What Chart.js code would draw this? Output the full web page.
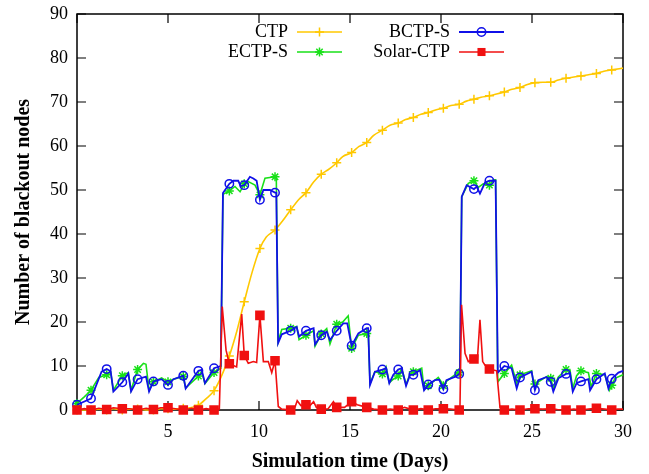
<!DOCTYPE html>
<html lang="en">
<head>
<meta charset="UTF-8">
<title>Blackout nodes</title>
<script src="https://cdn.jsdelivr.net/npm/chart.js@4"></script>
<style>
  html, body { margin: 0; padding: 0; background: #fff; }
</style>
</head>
<body>
<canvas id="blackoutChart" width="649" height="474"></canvas>
<script>
// days at which each curve carries its point symbol
var markDays = [0, 0.77, 1.63, 2.49, 3.33, 4.2, 5.0, 5.84, 6.67, 7.53, 8.37, 9.19, 10.05, 10.88,
    11.74, 12.58, 13.42, 14.27, 15.09, 15.92, 16.78, 17.65, 18.48, 19.3, 20.13, 21.0, 21.81,
    22.66, 23.48, 24.34, 25.16, 26.03, 26.87, 27.69, 28.54, 29.38];

var xTicks = [0, 5, 10, 15, 20, 25, 30];
var yTicks = [0, 10, 20, 30, 40, 50, 60, 70, 80, 90];

// [day, blackout nodes]
var ctpPts = [[0,0],[0.77,0],[1.2,0.2],[1.63,0],[2.0,0.3],[2.49,0],[2.9,0.2],[3.33,0.2],[3.8,0],
    [4.2,0],[4.6,0.3],[5.0,0.3],[5.4,0.2],[5.84,0.4],[6.2,0.5],[6.67,1.1],[7.1,2.6],[7.53,4.4],
    [7.95,7.8],[8.37,12.3],[8.8,18.2],[9.19,24.6],[9.6,31.0],[10.05,36.7],[10.4,39.3],[10.88,40.9],
    [11.3,43.0],[11.74,45.5],[12.2,47.9],[12.58,49.4],[13.0,51.8],[13.42,53.6],[13.8,54.6],
    [14.27,56.2],[14.6,57.6],[15.09,58.5],[15.5,59.9],[15.92,60.8],[16.3,62.4],[16.78,63.6],
    [17.2,64.7],[17.65,65.2],[18.05,66.0],[18.48,66.5],[18.9,67.2],[19.3,67.6],[19.7,68.2],
    [20.13,68.6],[20.55,69.2],[21.0,69.5],[21.4,70.2],[21.81,70.6],[22.2,71.1],[22.66,71.4],
    [23.05,71.8],[23.48,72.3],[23.9,72.9],[24.34,73.3],[24.75,74.0],[25.16,74.4],[25.6,74.5],
    [26.03,74.5],[26.45,75.0],[26.87,75.4],[27.3,75.7],[27.69,75.9],[28.1,76.2],[28.54,76.5],
    [28.95,77.0],[29.38,77.3],[30,77.7]];

var ectpPts = [[0,1.5],[0.4,3.0],[0.77,4.5],[1.2,7.4],[1.63,8.0],[1.85,8.6],[2.0,4.5],[2.49,7.8],
    [2.82,8.5],[2.97,4.5],[3.33,9.2],[3.65,10.6],[3.79,10.4],[3.96,4.5],[4.2,6.4],[4.65,7.3],
    [5.0,6.4],[5.3,7.0],[5.84,7.6],[5.97,5.0],[6.67,7.7],[6.85,8.8],[7.03,6.0],[7.53,8.5],[7.9,9.5],
    [8.02,49.0],[8.37,49.8],[8.68,50.8],[8.96,49.6],[9.19,51.4],[9.41,51.9],[9.78,51.1],[10.05,48.9],
    [10.33,52.7],[10.88,53.0],[10.95,53.0],[11.05,15.5],[11.25,18.3],[11.74,18.6],[12.07,19.0],
    [12.2,16.0],[12.58,17.0],[13.0,18.0],[13.08,14.5],[13.42,17.3],[13.72,18.5],[13.9,15.0],
    [14.27,19.5],[14.6,20.0],[14.9,21.4],[15.09,14.0],[15.46,17.0],[15.92,17.4],[16.0,18.0],
    [16.1,6.0],[16.37,8.7],[16.78,8.2],[16.98,9.8],[17.16,6.2],[17.38,7.0],[17.65,7.7],[17.84,9.5],
    [18.08,5.8],[18.3,8.2],[18.48,8.7],[18.94,9.5],[19.07,4.7],[19.3,5.5],[19.85,7.4],[20.0,6.5],
    [20.13,5.5],[20.3,6.5],[20.86,8.3],[21.0,8.5],[21.04,8.6],[21.14,48.5],[21.5,51.5],[21.81,52.1],
    [22.05,50.6],[22.32,51.4],[22.66,51.1],[22.87,52.3],[23.0,52.3],[23.12,6.4],[23.48,8.3],
    [23.88,10.2],[24.16,6.1],[24.34,8.0],[24.98,8.9],[25.1,5.7],[25.16,5.9],[25.8,7.6],[26.03,7.2],
    [26.17,4.9],[26.45,7.5],[26.87,9.2],[27.09,9.0],[27.24,4.9],[27.45,7.8],[27.69,8.9],[28.1,8.5],
    [28.25,5.3],[28.54,8.3],[29.0,8.0],[29.25,4.5],[29.38,5.6],[29.56,7.2],[30,8.0]];

var bctpPts = [[0,1.2],[0.77,2.6],[1.35,8.7],[1.63,9.3],[1.85,8.8],[2.0,4.2],[2.49,6.3],[2.82,8.3],
    [2.97,4.2],[3.33,7.0],[3.79,7.6],[3.96,4.2],[4.2,6.5],[4.65,7.0],[5.0,5.7],[5.3,7.0],[5.84,7.8],
    [5.97,4.9],[6.67,8.9],[6.85,9.1],[7.03,6.1],[7.53,9.5],[7.9,10.0],[8.02,49.3],[8.37,51.4],
    [8.59,52.1],[8.86,52.1],[8.99,50.9],[9.19,51.1],[9.5,53.0],[9.69,52.6],[9.87,52.1],[10.05,47.8],
    [10.24,50.0],[10.6,50.0],[10.88,49.4],[10.95,49.4],[11.05,15.2],[11.25,17.2],[11.74,18.0],
    [12.07,18.9],[12.2,16.7],[12.58,18.0],[13.0,18.6],[13.08,14.9],[13.42,17.0],[13.72,17.8],
    [13.9,15.9],[14.27,18.0],[14.63,19.7],[14.85,19.7],[15.09,14.6],[15.46,17.4],[15.92,18.6],
    [16.0,18.6],[16.1,5.7],[16.37,8.7],[16.78,9.2],[16.98,9.5],[17.16,6.1],[17.38,8.0],[17.65,9.2],
    [17.84,9.5],[18.08,5.5],[18.3,8.0],[18.48,8.0],[18.85,9.1],[19.07,4.5],[19.3,5.8],[19.67,6.8],
    [19.9,6.9],[20.13,4.7],[20.3,6.8],[20.86,7.7],[21.0,8.2],[21.04,8.3],[21.14,48.5],[21.41,51.1],
    [21.81,50.2],[21.96,50.8],[22.14,49.2],[22.42,51.7],[22.66,52.1],[23.0,52.1],[23.12,8.5],
    [23.48,10.0],[23.88,9.5],[24.16,4.9],[24.34,7.4],[24.98,8.7],[25.16,4.5],[25.35,6.8],[25.8,7.5],
    [26.03,6.4],[26.17,4.2],[26.45,7.2],[26.87,8.2],[27.09,8.3],[27.24,4.2],[27.45,6.1],[27.69,6.5],
    [28.1,7.0],[28.19,4.5],[28.54,7.0],[29.0,8.3],[29.2,4.9],[29.38,7.1],[29.75,8.5],[30,8.9]];

var solarPts = [[0,0],[0.4,0.3],[0.77,0],[1.2,0.4],[1.63,0.1],[2.0,0.5],[2.49,0.3],[2.9,0.3],
    [3.33,0],[3.8,0.4],[4.2,0.1],[4.6,0.5],[5.0,0.5],[5.4,0.3],[5.84,0],[6.3,0.4],[6.67,0],[7.1,0.3],
    [7.53,0],[7.82,0.2],[7.98,23.5],[8.19,13.6],[8.37,10.5],[8.77,9.8],[9.05,21.8],[9.19,12.4],
    [9.41,10.6],[9.69,11.0],[9.87,10.8],[10.05,21.5],[10.24,11.0],[10.51,11.0],[10.7,8.5],
    [10.88,11.2],[11.06,0.8],[11.25,0.2],[11.74,0],[11.95,0.3],[12.1,2.1],[12.3,1.0],[12.58,1.2],
    [12.8,1.0],[13.0,1.9],[13.15,0.6],[13.42,0.2],[13.8,0.3],[14.09,1.9],[14.27,0.6],[14.7,0.6],
    [15.09,1.9],[15.4,1.2],[15.92,0.6],[16.3,0.2],[16.78,0],[17.2,0.2],[17.65,0],[18.0,0.6],
    [18.48,0],[18.9,0.3],[19.3,0],[19.7,0.3],[20.13,0.3],[20.5,0.2],[21.0,0],[21.04,0.1],
    [21.13,23.9],[21.32,12.9],[21.5,11.0],[21.81,11.6],[22.0,11.5],[22.14,20.5],[22.29,11.0],
    [22.42,10.2],[22.66,9.3],[23.06,8.9],[23.24,0.6],[23.48,0],[23.9,0.2],[24.34,0],[24.8,0.3],
    [25.16,0.3],[25.6,0.2],[26.03,0.3],[26.4,0.1],[26.87,0],[27.3,0.2],[27.69,0],[28.1,0.2],
    [28.54,0.4],[29.0,0.2],[29.38,0],[29.7,0.2],[30,0.2]];

var seriesNames = ['CTP', 'ECTP-S', 'BCTP-S', 'Solar-CTP'];
var seriesColors = ['#FFC800', '#18E018', '#1010E8', '#F01010'];

function toXY(pts) {
    return pts.map(function (p) { return { x: p[0], y: p[1] }; });
}

function isMark(x) {
    for (var i = 0; i < markDays.length; i++) {
        if (Math.abs(markDays[i] - x) < 1e-6) return true;
    }
    return false;
}

function makeSet(i, pts, style, size, fill, drawOrder, width) {
    return {
        label: seriesNames[i],
        data: toXY(pts),
        borderColor: seriesColors[i],
        backgroundColor: fill ? seriesColors[i] : 'rgba(0,0,0,0)',
        pointBorderColor: seriesColors[i],
        pointBackgroundColor: fill ? seriesColors[i] : 'rgba(0,0,0,0)',
        borderWidth: width,
        pointBorderWidth: 1.5,
        pointStyle: style,
        markSize: size,
        pointRadius: function (c) { return isMark(c.raw.x) ? size : 0; },
        pointHoverRadius: 0,
        tension: 0,
        fill: false,
        clip: false,
        order: drawOrder
    };
}

var datasets = [
    makeSet(0, ctpPts, 'cross', 4.5, false, 4, 1.6),
    makeSet(1, ectpPts, 'star', 4.5, false, 3, 1.6),
    makeSet(2, bctpPts, 'circle', 4.2, false, 2, 1.8),
    makeSet(3, solarPts, 'rect', 5.7, true, 1, 1.6)
];
datasets[0].cubicInterpolationMode = 'monotone';

var serif = '"Liberation Serif", "Times New Roman", serif';

// frame and inward tick marks, drawn under the curves
var frameTicks = {
    id: 'frameTicks',
    beforeDatasetsDraw: function (chart) {
        var ctx = chart.ctx, a = chart.chartArea;
        var xs = chart.scales.x, ys = chart.scales.y;
        var len = 9;
        ctx.save();
        ctx.strokeStyle = '#000';
        ctx.lineWidth = 1.2;
        ctx.beginPath();
        xs.ticks.forEach(function (t) {
            var p = xs.getPixelForValue(t.value);
            ctx.moveTo(p, a.bottom); ctx.lineTo(p, a.bottom - len);
            ctx.moveTo(p, a.top); ctx.lineTo(p, a.top + len);
        });
        ys.ticks.forEach(function (t) {
            var p = ys.getPixelForValue(t.value);
            ctx.moveTo(a.left, p); ctx.lineTo(a.left + len, p);
            ctx.moveTo(a.right, p); ctx.lineTo(a.right - len, p);
        });
        ctx.stroke();
        ctx.lineWidth = 1.5;
        ctx.strokeRect(a.left, a.top, a.right - a.left, a.bottom - a.top);
        ctx.restore();
    }
};

function drawSymbol(ctx, style, x, y, r, color) {
    ctx.strokeStyle = color;
    ctx.fillStyle = color;
    ctx.lineWidth = 1.5;
    ctx.beginPath();
    if (style === 'circle') {
        ctx.arc(x, y, r, 0, Math.PI * 2);
        ctx.stroke();
    } else if (style === 'rect') {
        var h = r * Math.SQRT1_2;
        ctx.fillRect(x - h, y - h, 2 * h, 2 * h);
    } else {
        ctx.moveTo(x - r, y); ctx.lineTo(x + r, y);
        ctx.moveTo(x, y - r); ctx.lineTo(x, y + r);
        if (style === 'star') {
            var d = r * Math.SQRT1_2;
            ctx.moveTo(x - d, y - d); ctx.lineTo(x + d, y + d);
            ctx.moveTo(x - d, y + d); ctx.lineTo(x + d, y - d);
        }
        ctx.stroke();
    }
}

// two-column key: label on the left, line sample with symbol on the right
var keyBox = {
    id: 'keyBox',
    afterDraw: function (chart) {
        var ctx = chart.ctx, a = chart.chartArea;
        ctx.save();
        ctx.font = '18px ' + serif;
        ctx.textAlign = 'right';
        ctx.textBaseline = 'middle';
        chart.data.datasets.forEach(function (ds, i) {
            var col = Math.floor(i / 2), row = i % 2;
            var tx = a.left + 211 + col * 162;
            var ty = a.top + 18 + row * 20;
            ctx.fillStyle = '#000';
            ctx.fillText(ds.label, tx, ty);
            ctx.strokeStyle = ds.borderColor;
            ctx.lineWidth = ds.borderWidth;
            ctx.beginPath();
            ctx.moveTo(tx + 9, ty);
            ctx.lineTo(tx + 54, ty);
            ctx.stroke();
            drawSymbol(ctx, ds.pointStyle, tx + 31.5, ty, ds.markSize, ds.borderColor);
        });
        ctx.restore();
    }
};

var ctx = document.getElementById('blackoutChart').getContext('2d');
var blackoutChart = new Chart(ctx, {
    type: 'line',
    data: { datasets: datasets },
    plugins: [frameTicks, keyBox],
    options: {
        responsive: false,
        animation: false,
        events: [],
        layout: { padding: { left: 0, right: 26, top: 14, bottom: 0 } },
        plugins: {
            legend: { display: false },
            tooltip: { enabled: false }
        },
        scales: {
            x: {
                type: 'linear',
                min: 0,
                max: 30,
                afterBuildTicks: function (s) {
                    s.ticks = xTicks.map(function (v) { return { value: v }; });
                },
                afterFit: function (s) {
                    s.height = 64;
                    s.paddingLeft = 0; s.paddingRight = 0;
                },
                grid: { display: false, drawTicks: false },
                border: { display: false },
                ticks: {
                    color: '#000',
                    padding: 11,
                    maxRotation: 0,
                    font: { family: serif, size: 18 },
                    callback: function (v) { return v === 0 ? '' : v; }
                },
                title: {
                    display: true,
                    text: 'Simulation time (Days)',
                    color: '#000',
                    font: { family: serif, size: 20, weight: 'bold' },
                    padding: { top: 0, bottom: 0 }
                }
            },
            y: {
                type: 'linear',
                min: 0,
                max: 90,
                afterBuildTicks: function (s) {
                    s.ticks = yTicks.map(function (v) { return { value: v }; });
                },
                afterFit: function (s) {
                    s.width = 77;
                    s.paddingTop = 0; s.paddingBottom = 0;
                },
                grid: { display: false, drawTicks: false },
                border: { display: false },
                ticks: {
                    color: '#000',
                    padding: 9,
                    font: { family: serif, size: 18 }
                },
                title: {
                    display: true,
                    text: 'Number of blackout nodes',
                    color: '#000',
                    font: { family: serif, size: 20, weight: 'bold' },
                    padding: { top: 12, bottom: 0 }
                }
            }
        }
    }
});
</script>
</body>
</html>
